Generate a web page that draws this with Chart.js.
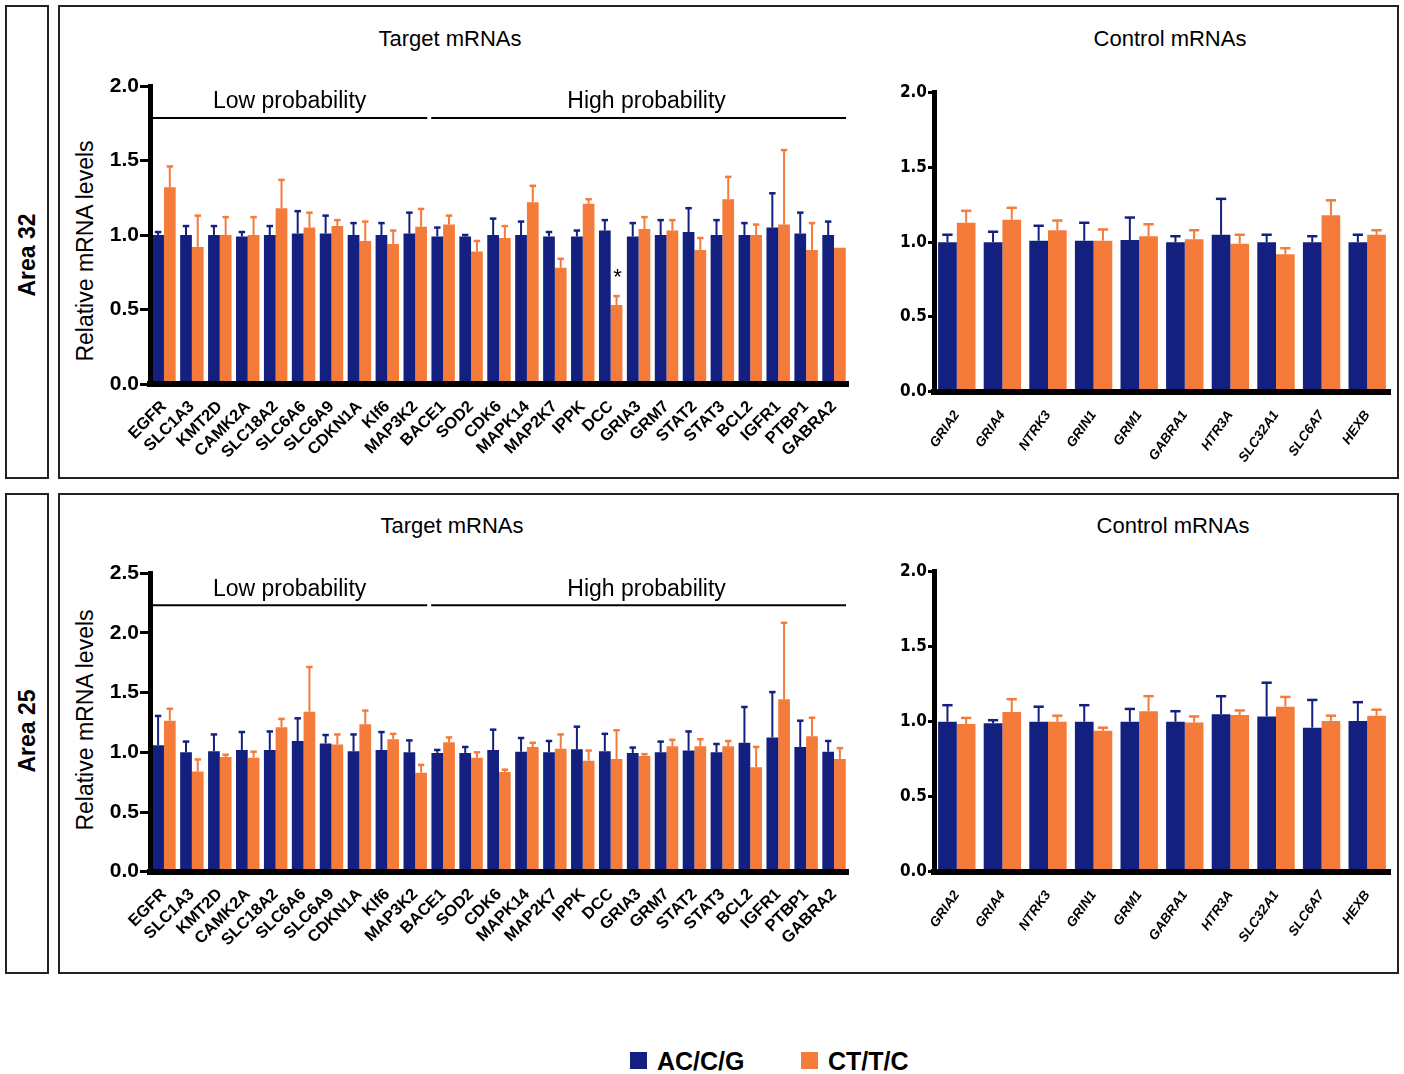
<!DOCTYPE html>
<html>
<head>
<meta charset="utf-8">
<script src="https://cdn.jsdelivr.net/npm/chart.js@4.4.1/dist/chart.umd.min.js"></script>
<style>
  body { margin: 0; background: #fff; width: 1404px; height: 1074px; position: relative; overflow: hidden;
         font-family: "Liberation Sans", Arial, Helvetica, sans-serif; color: #000; }
  .box { position: absolute; border: 2px solid #222; box-sizing: border-box; }
  .txt { position: absolute; transform: translate(-50%, -50%); white-space: nowrap; line-height: 1; }
  .vt { transform: translate(-50%, -50%) rotate(-90deg); }
  .wrap { position: absolute; }
  .leg { position: absolute; font-weight: bold; font-size: 25px; line-height: 1; }
  .sw { position: absolute; width: 17px; height: 17px; }
</style>
</head>
<body>

<div class="box" style="left:5px;top:5px;width:44px;height:474px"></div>
<div class="box" style="left:58px;top:5px;width:1341px;height:474px"></div>
<div class="box" style="left:5px;top:493px;width:44px;height:481px"></div>
<div class="box" style="left:58px;top:493px;width:1341px;height:481px"></div>

<div class="txt vt" style="left:27px;top:255px;font-weight:bold;font-size:23px">Area 32</div>
<div class="txt vt" style="left:27px;top:731px;font-weight:bold;font-size:23px">Area 25</div>

<div class="txt" style="left:450px;top:39px;font-size:22px">Target mRNAs</div>
<div class="txt" style="left:1170px;top:39px;font-size:22px">Control mRNAs</div>
<div class="txt" style="left:452px;top:526px;font-size:22px">Target mRNAs</div>
<div class="txt" style="left:1173px;top:526px;font-size:22px">Control mRNAs</div>

<div class="txt vt" style="left:85px;top:251px;font-size:23px">Relative mRNA levels</div>
<div class="txt vt" style="left:85px;top:720px;font-size:23px">Relative mRNA levels</div>

<div class="wrap" style="left:60px;top:50px;width:800px;height:430px"><canvas id="a32t"></canvas></div>
<div class="wrap" style="left:880px;top:60px;width:515px;height:418px"><canvas id="a32c"></canvas></div>
<div class="wrap" style="left:60px;top:537px;width:800px;height:433px"><canvas id="a25t"></canvas></div>
<div class="wrap" style="left:880px;top:540px;width:515px;height:430px"><canvas id="a25c"></canvas></div>

<div id="legend"></div>

<script>
/* ---------- DATA ---------- */
const seriesNames = ['AC/C/G', 'CT/T/C'];
const seriesColors = ['#14207f', '#f57b3a'];

const targetGenes = ['EGFR', 'SLC1A3', 'KMT2D', 'CAMK2A', 'SLC18A2', 'SLC6A6', 'SLC6A9', 'CDKN1A', 'Klf6', 'MAP3K2',
  'BACE1', 'SOD2', 'CDK6', 'MAPK14', 'MAP2K7', 'IPPK', 'DCC', 'GRIA3', 'GRM7', 'STAT2', 'STAT3', 'BCL2', 'IGFR1', 'PTBP1', 'GABRA2'];
const controlGenes = ['GRIA2', 'GRIA4', 'NTRK3', 'GRIN1', 'GRM1', 'GABRA1', 'HTR3A', 'SLC32A1', 'SLC6A7', 'HEXB'];

const groupLabels = ['Low probability', 'High probability'];
const groupStarts = [0, 10];
const groupEnds = [9, 24];

// Area 32, target mRNAs
const a32TargetAC = [1.00, 1.00, 1.00, 0.99, 1.00, 1.01, 1.01, 1.00, 1.00, 1.01, 0.99, 0.99, 1.00, 1.00, 0.99,
  0.99, 1.03, 0.99, 1.00, 1.02, 1.00, 1.00, 1.05, 1.01, 1.00];
const a32TargetACErr = [0.02, 0.06, 0.06, 0.03, 0.06, 0.15, 0.12, 0.08, 0.08, 0.14, 0.06, 0.01, 0.11, 0.09, 0.03,
  0.04, 0.07, 0.09, 0.10, 0.16, 0.10, 0.08, 0.23, 0.14, 0.09];
const a32TargetCT = [1.32, 0.92, 1.00, 1.00, 1.18, 1.05, 1.06, 0.96, 0.94, 1.055, 1.07, 0.89, 0.98, 1.22, 0.78,
  1.21, 0.53, 1.04, 1.03, 0.90, 1.24, 1.00, 1.07, 0.90, 0.915];
const a32TargetCTErr = [0.14, 0.21, 0.12, 0.12, 0.19, 0.10, 0.04, 0.13, 0.09, 0.12, 0.06, 0.07, 0.08, 0.11, 0.06,
  0.03, 0.06, 0.08, 0.07, 0.08, 0.15, 0.07, 0.50, 0.18, 0];
const a32TargetStars = ['', '', '', '', '', '', '', '', '', '', '', '', '', '', '', '', '*', '', '', '', '', '', '', '', ''];

// Area 32, control mRNAs
const a32ControlAC = [1.00, 1.00, 1.01, 1.01, 1.015, 1.00, 1.05, 1.00, 1.00, 1.00];
const a32ControlACErr = [0.05, 0.07, 0.10, 0.12, 0.15, 0.04, 0.24, 0.05, 0.04, 0.05];
const a32ControlCT = [1.13, 1.15, 1.08, 1.01, 1.04, 1.02, 0.99, 0.92, 1.18, 1.05];
const a32ControlCTErr = [0.08, 0.08, 0.065, 0.075, 0.08, 0.06, 0.06, 0.04, 0.10, 0.03];

// Area 25, target mRNAs
const a25TargetAC = [1.06, 1.00, 1.01, 1.02, 1.02, 1.095, 1.075, 1.01, 1.02, 1.00, 0.995, 0.995, 1.02, 1.005, 1.00,
  1.025, 1.01, 0.995, 1.00, 1.015, 1.00, 1.08, 1.125, 1.045, 1.005];
const a25TargetACErr = [0.245, 0.09, 0.14, 0.15, 0.155, 0.19, 0.07, 0.14, 0.15, 0.10, 0.025, 0.05, 0.17, 0.115, 0.095,
  0.19, 0.145, 0.045, 0.09, 0.16, 0.07, 0.30, 0.38, 0.22, 0.09];
const a25TargetCT = [1.265, 0.84, 0.96, 0.955, 1.21, 1.34, 1.065, 1.235, 1.11, 0.83, 1.085, 0.955, 0.835, 1.045, 1.03,
  0.93, 0.945, 0.97, 1.05, 1.05, 1.05, 0.875, 1.445, 1.135, 0.945];
const a25TargetCTErr = [0.10, 0.10, 0.02, 0.05, 0.07, 0.375, 0.085, 0.115, 0.045, 0.065, 0.04, 0.045, 0.02, 0.035, 0.12,
  0.085, 0.24, 0.015, 0.055, 0.06, 0.045, 0.17, 0.64, 0.155, 0.09];

// Area 25, control mRNAs
const a25ControlAC = [1.00, 0.99, 1.00, 1.00, 1.00, 1.00, 1.05, 1.035, 0.96, 1.005];
const a25ControlACErr = [0.11, 0.02, 0.10, 0.11, 0.085, 0.07, 0.12, 0.225, 0.185, 0.125];
const a25ControlCT = [0.985, 1.065, 1.00, 0.94, 1.07, 0.995, 1.045, 1.10, 1.005, 1.04];
const a25ControlCTErr = [0.04, 0.085, 0.04, 0.02, 0.10, 0.04, 0.03, 0.065, 0.035, 0.04];

const FONT = '"Liberation Sans", Arial, Helvetica, sans-serif';
const NARROW = '"Liberation Sans Narrow", "Arial Narrow", "DejaVu Sans Condensed", sans-serif';

/* ---------- PLUGINS ---------- */
// upper SEM whiskers, same colour as the bar
const errorBars = {
  id: 'errorBars',
  afterDatasetsDraw(chart) {
    const ctx = chart.ctx, y = chart.scales.y;
    chart.data.datasets.forEach((ds, di) => {
      const meta = chart.getDatasetMeta(di);
      ctx.save();
      ctx.strokeStyle = ds.backgroundColor;
      meta.data.forEach((bar, i) => {
        const e = ds.errors[i];
        if (!e) return;
        const top = y.getPixelForValue(ds.data[i] + e);
        const capW = bar.width * 0.55;
        ctx.lineWidth = 2;
        ctx.beginPath(); ctx.moveTo(bar.x, bar.y); ctx.lineTo(bar.x, top); ctx.stroke();
        ctx.lineWidth = 2.5;
        ctx.beginPath(); ctx.moveTo(bar.x - capW / 2, top); ctx.lineTo(bar.x + capW / 2, top); ctx.stroke();
      });
      ctx.restore();
    });
  }
};

// "Low probability" / "High probability" brackets over the target genes
const brackets = {
  id: 'brackets',
  afterDraw(chart, args, opts) {
    if (!opts.labels) return;
    const { ctx, chartArea } = chart, x = chart.scales.x;
    const slot = x.getPixelForValue(1) - x.getPixelForValue(0);
    ctx.save();
    opts.labels.forEach((lab, k) => {
      const x0 = x.getPixelForValue(opts.starts[k]) - slot / 2 + 2;
      const x1 = x.getPixelForValue(opts.ends[k]) + slot / 2 - 2;
      const ly = chartArea.top + 32;
      ctx.strokeStyle = '#000'; ctx.lineWidth = 2;
      ctx.beginPath(); ctx.moveTo(x0, ly); ctx.lineTo(x1, ly); ctx.stroke();
      ctx.fillStyle = '#000'; ctx.font = '23px ' + FONT;
      ctx.textAlign = 'center'; ctx.textBaseline = 'middle';
      ctx.fillText(lab, (x0 + x1) / 2 + (opts.shift ? opts.shift[k] : 0), chartArea.top + 16);
    });
    ctx.restore();
  }
};

// significance marks above the CT/T/C bars
const stars = {
  id: 'stars',
  afterDatasetsDraw(chart, args, opts) {
    if (!opts.marks) return;
    const ctx = chart.ctx, y = chart.scales.y;
    const ds = chart.data.datasets[1], meta = chart.getDatasetMeta(1);
    ctx.save();
    ctx.fillStyle = '#000'; ctx.font = '22px ' + FONT;
    ctx.textAlign = 'center'; ctx.textBaseline = 'alphabetic';
    opts.marks.forEach((m, i) => {
      if (!m) return;
      const top = y.getPixelForValue(ds.data[i] + ds.errors[i]);
      ctx.fillText(m, meta.data[i].x + 1, top - 12);
    });
    ctx.restore();
  }
};

/* ---------- CHARTS ---------- */
function makeChart(id, labels, ac, acErr, ct, ctErr, cfg) {
  return new Chart(document.getElementById(id), {
    type: 'bar',
    data: {
      labels,
      datasets: [
        { label: seriesNames[0], data: ac, errors: acErr, backgroundColor: seriesColors[0], borderWidth: 0 },
        { label: seriesNames[1], data: ct, errors: ctErr, backgroundColor: seriesColors[1], borderWidth: 0 }
      ]
    },
    options: {
      responsive: true,
      maintainAspectRatio: false,
      animation: false,
      layout: { padding: { top: cfg.padTop, right: cfg.padRight, left: 0, bottom: 0 } },
      datasets: { bar: { barPercentage: 1.0, categoryPercentage: cfg.catPct } },
      plugins: {
        legend: { display: false },
        tooltip: { enabled: false },
        brackets: cfg.brackets || {},
        stars: { marks: cfg.stars }
      },
      scales: {
        x: {
          grid: { display: false },
          border: { display: true, color: '#000', width: 6, z: 1 },
          ticks: {
            autoSkip: false, minRotation: cfg.rot, maxRotation: cfg.rot, padding: cfg.xPad,
            color: '#000', font: cfg.xFont
          },
          afterFit: s => { s.height = cfg.xHeight; }
        },
        y: {
          min: 0, max: cfg.yMax,
          grid: { drawOnChartArea: false, drawTicks: true, tickLength: cfg.tickLen, color: '#000', lineWidth: 3 },
          border: { display: true, color: '#000', width: 5, z: 1 },
          ticks: { stepSize: 0.5, padding: 1, color: '#000', font: cfg.yFont, callback: v => v.toFixed(1) },
          afterFit: s => { s.width = cfg.yWidth; }
        }
      }
    },
    plugins: [errorBars, brackets, stars]
  });
}

const targetCfg = {
  catPct: 0.84, rot: 45, xPad: 5, yWidth: 90, padRight: 12, tickLen: 10,
  xFont: { family: FONT, size: 16.5, weight: 'bold' },
  yFont: { family: FONT, size: 21, weight: 'bold' },
  brackets: { labels: groupLabels, starts: groupStarts, ends: groupEnds, shift: [0, 8] }
};
const controlCfg = {
  catPct: 0.82, rot: 55, xPad: 8, yWidth: 54, padRight: 5, tickLen: 6, yMax: 2,
  xFont: { family: FONT, size: 13.5, weight: 'bold', style: 'italic' },
  yFont: { family: NARROW, size: 17, weight: 'bold' }
};

makeChart('a32t', targetGenes, a32TargetAC, a32TargetACErr, a32TargetCT, a32TargetCTErr,
  Object.assign({}, targetCfg, { yMax: 2, padTop: 36, xHeight: 96, stars: a32TargetStars }));
makeChart('a32c', controlGenes, a32ControlAC, a32ControlACErr, a32ControlCT, a32ControlCTErr,
  Object.assign({}, controlCfg, { padTop: 32.7, xHeight: 86.3 }));
makeChart('a25t', targetGenes, a25TargetAC, a25TargetACErr, a25TargetCT, a25TargetCTErr,
  Object.assign({}, targetCfg, { yMax: 2.5, padTop: 36.3, xHeight: 98.3 }));
makeChart('a25c', controlGenes, a25ControlAC, a25ControlACErr, a25ControlCT, a25ControlCTErr,
  Object.assign({}, controlCfg, { padTop: 31.7, xHeight: 98.3 }));

/* ---------- LEGEND ---------- */
const legendX = [630, 801];
document.getElementById('legend').innerHTML = seriesNames.map((name, i) =>
  `<div class="sw" style="left:${legendX[i]}px;top:1052px;background:${seriesColors[i]}"></div>` +
  `<div class="leg" style="left:${legendX[i] + 27}px;top:1049px">${name}</div>`
).join('');
</script>
</body>
</html>
